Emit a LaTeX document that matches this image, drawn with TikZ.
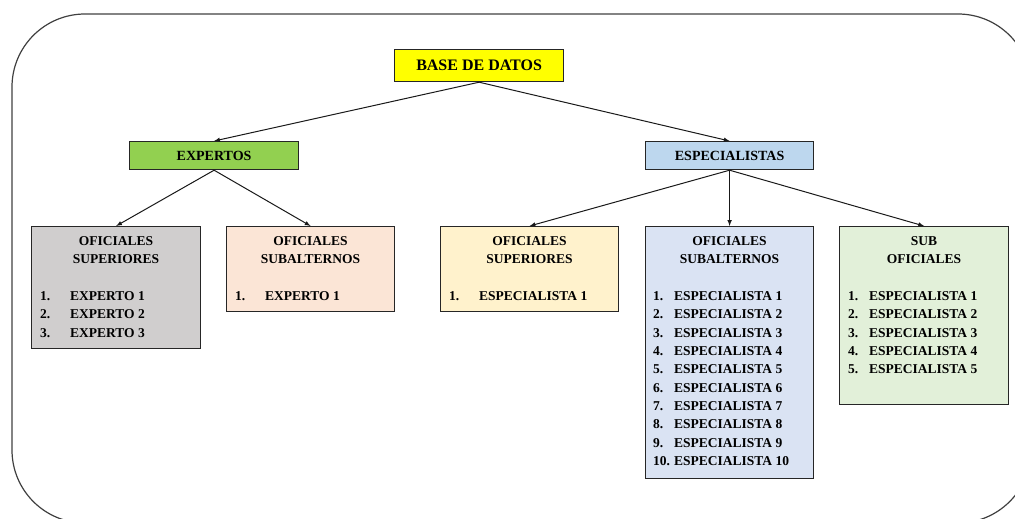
\documentclass[tikz,border=0pt]{standalone}
\usepackage{fontspec}
\setmainfont{Liberation Serif}
\usepackage{tikz}
\usetikzlibrary{positioning,arrows}
\definecolor{amarillo}{HTML}{FFFF00}
\definecolor{verde}{HTML}{92D050}
\definecolor{azul}{HTML}{BDD7EE}
\definecolor{gris}{HTML}{D0CECE}
\definecolor{melocoton}{HTML}{FBE5D6}
\definecolor{crema}{HTML}{FFF2CC}
\definecolor{celeste}{HTML}{DAE3F3}
\definecolor{verdecl}{HTML}{E2F0D9}
\newcommand{\itm}[2][30pt]{\makebox[#1][l]{#2}}

\begin{document}
\begin{tikzpicture}[x=1pt,y=-1pt]
\tikzstyle{caja}=[rectangle, draw=black!85, line width=1.2pt, inner sep=0pt, anchor=north west]
\tikzstyle{titulo}=[font=\bfseries\fontsize{14}{16}\selectfont]
\tikzstyle{encab}=[anchor=north, inner sep=0pt, align=center, font=\bfseries\fontsize{13.5}{18.3}\selectfont]
\tikzstyle{lista}=[anchor=north west, inner sep=0pt, align=left, font=\bfseries\fontsize{13.5}{18.3}\selectfont]
\tikzstyle{connect}=[-latex, line width=1pt, black!90]

	\useasboundingbox (0,0) rectangle (1015,519);
	\begin{scope}
	\clip (0,0) rectangle (1015,519);
	\draw[rounded corners=73pt, line width=1.2pt, black!75] (12,14) rectangle (1031,523);
	\end{scope}

	% nivel 1
	\node[caja, fill=amarillo, minimum width=169pt, minimum height=32pt, titulo, font=\bfseries\fontsize{16}{18}\selectfont] (base) at (394,49) {BASE DE DATOS};

	% nivel 2
	\node[caja, fill=verde, minimum width=169pt, minimum height=28pt, titulo] (exp) at (129,141) {EXPERTOS};
	\node[caja, fill=azul, minimum width=168pt, minimum height=28pt, titulo] (esp) at (645,141) {ESPECIALISTAS};

	% nivel 3, expertos
	\node[caja, fill=gris, minimum width=169pt, minimum height=122pt] (supE) at (31,226) {};
	\node[encab] (supEt) at ([yshift=-10pt]supE.north) {OFICIALES\\SUPERIORES};
	\node[lista] (supEl) at ([xshift=9pt,yshift=-65.5pt]supE.north west) {\itm{1.}EXPERTO 1\\\itm{2.}EXPERTO 2\\\itm{3.}EXPERTO 3};

	\node[caja, fill=melocoton, minimum width=168pt, minimum height=85pt] (subE) at (226,226) {};
	\node[encab] (subEt) at ([yshift=-10pt]subE.north) {OFICIALES\\SUBALTERNOS};
	\node[lista] (subEl) at ([xshift=9pt,yshift=-65.5pt]subE.north west) {\itm{1.}EXPERTO 1};

	% nivel 3, especialistas
	\node[caja, fill=crema, minimum width=178pt, minimum height=85pt] (supS) at (440,226) {};
	\node[encab] (supSt) at ([yshift=-10pt]supS.north) {OFICIALES\\SUPERIORES};
	\node[lista] (supSl) at ([xshift=9pt,yshift=-65.5pt]supS.north west) {\itm{1.}ESPECIALISTA 1};

	\node[caja, fill=celeste, minimum width=168pt, minimum height=252pt] (subS) at (645,226) {};
	\node[encab] (subSt) at ([yshift=-10pt]subS.north) {OFICIALES\\SUBALTERNOS};
	\node[lista] (subSl) at ([xshift=8pt,yshift=-65.5pt]subS.north west) {\itm[21pt]{1.}ESPECIALISTA 1\\\itm[21pt]{2.}ESPECIALISTA 2\\\itm[21pt]{3.}ESPECIALISTA 3\\\itm[21pt]{4.}ESPECIALISTA 4\\\itm[21pt]{5.}ESPECIALISTA 5\\\itm[21pt]{6.}ESPECIALISTA 6\\\itm[21pt]{7.}ESPECIALISTA 7\\\itm[21pt]{8.}ESPECIALISTA 8\\\itm[21pt]{9.}ESPECIALISTA 9\\\itm[21pt]{10.}ESPECIALISTA 10};

	\node[caja, fill=verdecl, minimum width=169pt, minimum height=178pt] (subO) at (839,226) {};
	\node[encab] (subOt) at ([yshift=-10pt]subO.north) {SUB\\OFICIALES};
	\node[lista] (subOl) at ([xshift=9pt,yshift=-65.5pt]subO.north west) {\itm[21pt]{1.}ESPECIALISTA 1\\\itm[21pt]{2.}ESPECIALISTA 2\\\itm[21pt]{3.}ESPECIALISTA 3\\\itm[21pt]{4.}ESPECIALISTA 4\\\itm[21pt]{5.}ESPECIALISTA 5};

	\path
		(base.south) edge [connect] (exp.north)
		(base.south) edge [connect] (esp.north);
	\path
		(exp.south) edge [connect] (supE.north)
		(exp.south) edge [connect] (subE.north);
	\path
		(esp.south) edge [connect] (supS.north)
		(esp.south) edge [connect] (subS.north)
		(esp.south) edge [connect] (subO.north);

\end{tikzpicture}
\end{document}
